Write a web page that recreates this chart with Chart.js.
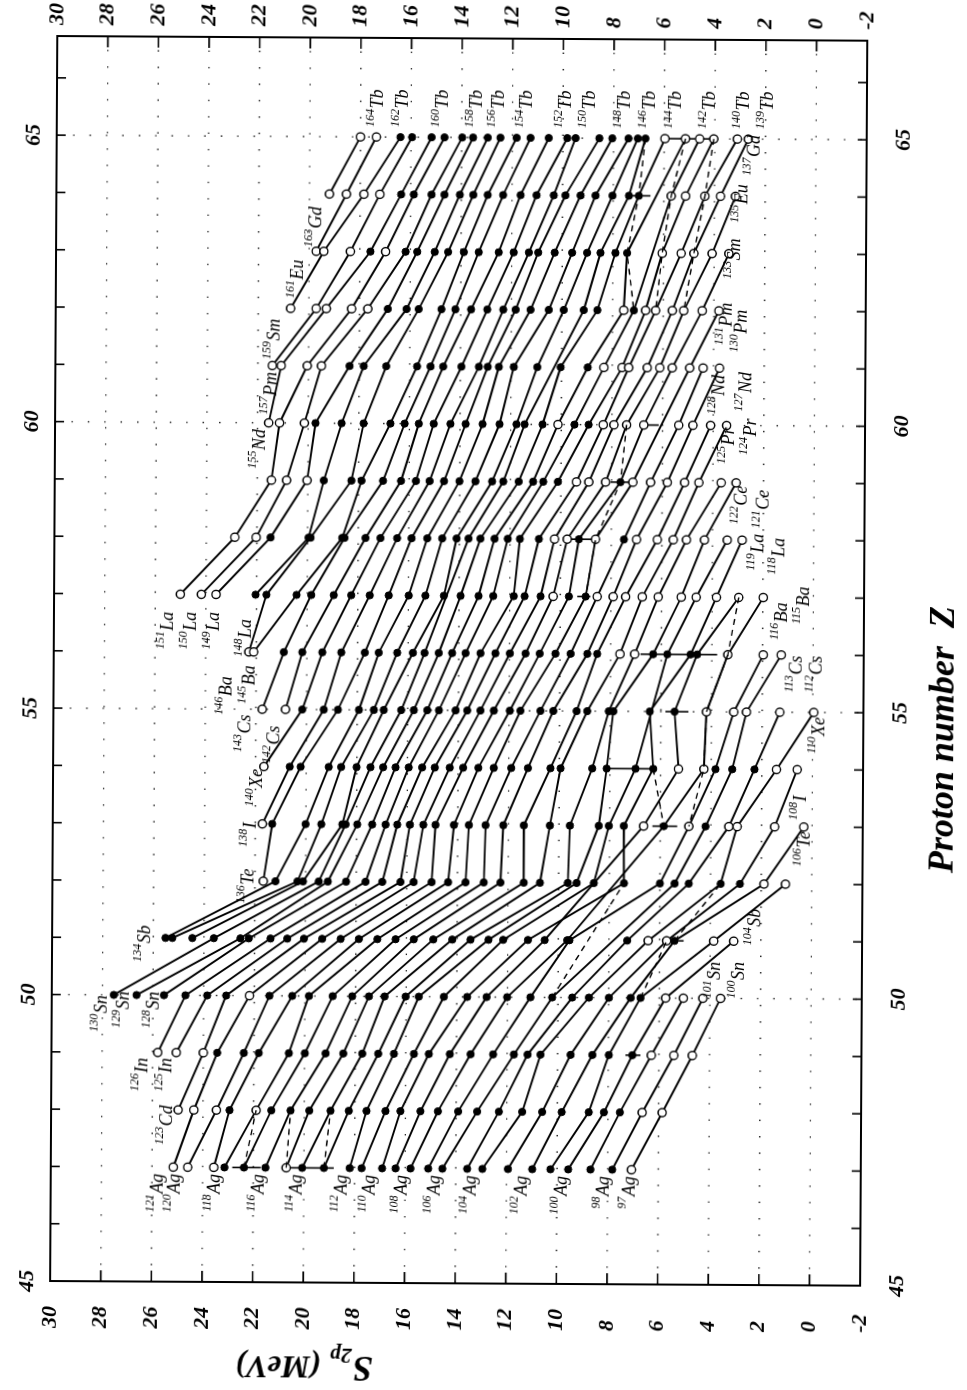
<!DOCTYPE html>
<html>
<head>
<meta charset="utf-8">
<title>Two-proton separation energies along isotone chains</title>
<script src="https://cdn.jsdelivr.net/npm/chart.js@4.4.0/dist/chart.umd.min.js"></script>
<style>
  html, body { margin: 0; padding: 0; background: #fff; }
  body { width: 967px; height: 1390px; position: relative; overflow: hidden; }
  /* the plot is laid out landscape and turned a quarter turn */
  #sheet { position: absolute; left: -211.5px; top: 211.5px; width: 1390px; height: 967px;
           transform: rotate(-89.67deg); transform-origin: 50% 50%; background: #fff; }
  #chart { display: block; }
</style>
</head>
<body>
<div id="sheet"><canvas id="chart" width="1390" height="967"></canvas></div>
<script>
// ---- axes ----
const Z_MIN = 45, Z_MAX = 66.73;
const S_MIN = -2, S_MAX = 30;
const zTickLabels = [45, 50, 55, 60, 65];
const sTickLabels = [-2, 0, 2, 4, 6, 8, 10, 12, 14, 16, 18, 20, 22, 24, 26, 28, 30];
const zDotted = [50, 55, 60, 65];
const sDotted = [0, 2, 4, 6, 8, 10, 12, 14, 16, 18, 20, 22, 24, 26, 28];

// ---- elements (rows of the table) ----
const zList   = [47, 48, 49, 50, 51, 52, 53, 54, 55, 56, 57, 58, 59, 60, 61, 62, 63, 64, 65];
const symbols = ['Ag','Cd','In','Sn','Sb','Te','I','Xe','Cs','Ba','La','Ce','Pr','Nd','Pm','Sm','Eu','Gd','Tb'];
// neutron number of the first (most neutron-rich) entry in each row; entries then step down by one
const nTop    = [74, 75, 77, 80, 83, 84, 85, 86, 88, 90, 94, 94, 94, 95, 96, 97, 98, 99, 99];

// ---- S2p (MeV), one list per element, N descending ----
const s2pAg = [25.16, 24.59, 23.56, 23.14, 22.37, 21.52, 20.70, 20.07, 19.21, 18.19, 17.72, 16.91, 16.38, 15.79, 15.09, 14.53, 13.55, 12.95, 11.94, 10.98, 10.26, 9.56, 8.68, 7.82, 7.06];
const s2pCd = [24.98, 24.36, 23.47, 22.95, 21.90, 21.30, 20.54, 19.80, 18.96, 18.24, 17.54, 16.79, 16.20, 15.41, 14.72, 13.92, 13.17, 12.31, 11.39, 10.60, 9.83, 8.76, 8.16, 7.53, 6.65, 5.86];
const s2pIn = [25.80, 25.07, 24.00, 23.45, 22.40, 21.81, 20.62, 19.99, 19.17, 18.47, 17.72, 17.09, 16.47, 15.68, 15.09, 14.26, 13.44, 12.55, 11.73, 11.19, 10.68, 9.49, 8.63, 7.98, 7.05, 6.30, 5.41, 4.68];
const s2pSn = [27.55, 26.65, 25.57, 24.72, 23.86, 23.11, 22.19, 21.40, 20.50, 19.84, 18.90, 18.13, 17.47, 16.85, 16.02, 15.50, 14.51, 13.59, 12.82, 12.01, 11.09, 10.23, 9.44, 8.78, 7.99, 7.13, 6.74, 5.75, 5.05, 4.28, 3.58];
const s2pSb = [25.52, 25.25, 24.46, 23.61, 22.56, 22.23, 21.37, 20.71, 20.05, 19.33, 18.60, 17.88, 17.15, 16.43, 15.71, 14.94, 14.19, 13.47, 12.76, 12.18, 11.20, 10.54, 9.65, 9.56, null, 7.28, 6.45, 5.72, 5.41, 3.86, 3.07];
const s2pTe = [21.67, 21.19, 20.32, 20.10, 19.48, 19.12, 18.40, 17.63, 16.97, 16.25, 15.73, 15.02, 14.37, 13.68, 12.96, 12.30, 11.38, 10.74, 9.64, 9.29, 8.61, 7.42, null, null, 6.00, 5.42, 4.86, 3.60, 2.84, 1.89, 1.04];
const s2pI  = [21.72, 21.33, 20.01, 19.39, 18.56, 18.43, 17.97, 17.38, 16.85, 16.39, 15.89, 15.36, 14.88, 14.15, 13.56, 12.90, 12.20, 11.39, 10.36, 9.57, 8.43, 8.03, 7.44, 6.66, 5.86, 4.87, 4.21, 3.29, 2.96, 1.48, 0.33];
const s2pXe = [21.67, 20.65, 20.22, 19.11, 18.62, 18.01, 17.46, 16.96, 16.47, 15.95, 15.42, 14.92, 14.33, 13.80, 13.20, 12.59, 11.90, 11.24, 10.35, 9.95, 8.70, 8.13, 6.99, 6.29, 5.29, 4.29, 3.83, 3.17, 2.29, 1.42, 0.60];
const s2pCs = [21.75, 20.83, 20.17, 19.32, 18.76, 17.93, 17.34, 16.95, 16.26, 15.76, 15.23, 14.77, 14.11, 13.65, 13.13, 12.60, 11.97, 11.55, 10.76, 10.25, 9.33, 8.91, 8.06, 7.88, null, 6.44, 5.46, 4.20, 3.12, 2.62, 1.30, -0.04];
const s2pBa = [22.29, 22.10, 20.91, 20.18, 19.39, 18.64, 17.71, 17.16, 16.43, 15.81, 15.35, 14.79, 14.26, 13.73, 13.14, 12.55, 11.98, 11.36, 10.80, 10.18, 9.58, 8.92, 8.53, 7.63, 7.05, 6.32, 5.76, 4.84, 4.58, 3.37, 1.97, 1.26];
const s2pLa = [25.01, 24.18, 23.60, 22.04, 21.61, 20.42, 19.84, 18.95, 18.26, 17.53, 16.78, 15.99, 15.33, 14.60, null, 13.94, 13.23, 12.65, 11.84, 11.41, 10.78, 10.28, 9.66, 9.00, 8.54, 7.91, 7.42, 6.76, 6.13, 5.22, 4.63, 3.83, 2.95, 1.98];
const s2pCe = [22.87, 22.03, 21.46, 19.96, 19.88, 18.63, 18.54, 17.71, 17.12, 16.46, 15.89, 15.27, 14.68, 14.11, 13.64, 13.17, 12.61, 12.09, 11.61, 10.86, 10.24, 9.74, 9.28, 8.62, 7.50, 7.00, 6.18, 5.55, 5.03, 4.32, 3.42, 2.83];
const s2pPr = [21.44, 20.84, 20.03, 19.37, 18.28, 17.88, 17.03, 16.32, 15.73, 15.19, 14.62, 14.01, 13.38, 12.72, 12.28, 11.67, 11.10, 10.70, 10.12, 9.39, 8.90, 8.24, 7.65, 7.16, 6.46, 5.80, 5.12, 4.55, 3.67, 3.08];
const s2pNd = [21.56, 21.13, 20.15, 19.71, 18.68, 17.81, 16.75, 16.19, 15.63, 15.04, 14.38, 13.78, 13.11, 12.44, 11.77, 11.45, 10.74, 10.13, 9.48, 8.92, 8.34, 7.92, 7.42, 6.74, null, 5.36, 4.80, 4.10, 3.47];
const s2pPm = [21.43, 21.08, 20.05, 19.49, 18.38, 17.82, 16.93, 15.71, 15.18, 14.68, 13.96, 13.27, 12.92, 12.48, 11.89, 10.96, null, 10.04, 8.97, 8.33, 7.61, 7.35, 6.62, 6.12, 5.63, 4.94, 4.41, 3.76];
const s2pSm = [20.72, 19.71, 19.31, 18.31, 17.67, 16.88, 16.14, 15.66, 14.76, 14.21, 13.59, 12.95, 12.32, 11.83, 11.24, 10.52, 9.93, 9.14, 8.60, 7.56, 7.16, 6.70, 6.30, 5.64, 5.19, 4.46, 3.80];
const s2pEu = [19.72, 19.42, 18.37, 17.58, 16.98, 16.19, 15.73, 15.04, 14.51, 13.89, 13.30, 12.51, 11.92, 11.32, 10.95, 10.30, 9.61, 9.02, 8.49, 7.90, 7.44, null, 6.05, 5.30, 4.80, 4.08, 3.42];
const s2pGd = [19.21, 18.54, 17.85, 17.22, 16.38, 15.88, 15.18, 14.67, 14.06, 13.53, 12.96, 12.35, 11.66, 11.03, 10.35, 9.89, 9.29, 8.70, 8.03, 7.38, 6.99, null, 5.71, 5.14, 4.38, 3.76, 3.17];
const s2pTb = [18.00, 17.37, 16.42, 15.96, 15.19, 14.68, 13.98, 13.55, 12.97, 12.47, 11.83, 11.28, 10.56, 9.83, 9.50, 8.56, 8.05, 7.41, 7.04, 6.74, 5.97, 5.16, 4.60, 4.04, 3.11, 2.68];

const s2pRows = [s2pAg, s2pCd, s2pIn, s2pSn, s2pSb, s2pTe, s2pI, s2pXe, s2pCs, s2pBa,
                 s2pLa, s2pCe, s2pPr, s2pNd, s2pPm, s2pSm, s2pEu, s2pGd, s2pTb];

// neutron numbers of the values taken from systematics (open circles), per element
const openN = [
  [74, 73, 72, 68, 50],
  [75, 74, 73, 71, 51, 50],
  [77, 76, 75, 52, 51, 50],
  [74, 53, 52, 51, 50],
  [57, 56, 54, 53],
  [84, 55, 54],
  [85, 62, 60, 58, 57, 56, 55],
  [86, 62, 61, 57, 56],
  [88, 87, 61, 60, 59, 58, 57],
  [90, 89, 67, 66, 61, 60, 59],
  [94, 93, 92, 73, 70, 69, 68, 67, 66, 65, 64, 63, 62, 61],
  [94, 93, 74, 73, 71, 69, 68, 67, 66, 65, 64, 63],
  [94, 93, 92, 75, 74, 73, 71, 70, 69, 68, 67, 66, 65],
  [95, 94, 93, 78, 75, 74, 73, 72, 70, 69, 68, 67],
  [96, 95, 94, 93, 77, 76, 75, 74, 73, 72, 71, 70, 69],
  [97, 96, 95, 94, 93, 78, 76, 75, 74, 73, 72, 71],
  [98, 97, 96, 94, 76, 75, 74, 73, 72],
  [99, 98, 97, 96, 77, 76, 75, 74, 73],
  [99, 98, 79, 78, 77, 76, 75, 74]
];

// S2p uncertainty bars: [Z, lower S2p, upper S2p] (MeV)
const errorBars = [
  [47, 21.71, 22.83], [47, 18.82, 20.70], [49, 6.73, 7.32], [51, 5.05, 5.57],
  [53, 5.33, 6.31], [54, 6.29, 8.13], [55, 4.91, 5.82], [56, 3.79, 6.82],
  [57, 8.81, 9.33], [58, 8.62, 9.74], [59, 7.25, 8.04], [60, 6.15, 6.74],
  [64, 6.53, 7.45], [65, 4.04, 5.97]
];

// dashed links between nuclides of neighbouring chains, as [Z, N] members
const dashedLinks = [
  [[47, 70], [48, 71]], [[47, 68], [48, 69]], [[47, 66], [48, 67]],
  [[50, 59], [52, 63]], [[50, 54], [51, 56]], [[51, 55], [52, 57]],
  [[54, 63], [53, 61]], [[56, 61], [55, 61], [54, 61], [53, 60]],
  [[57, 62], [56, 61], [55, 61]],
  [[60, 73], [59, 72], [58, 71], [57, 71]],
  [[65, 80], [64, 79], [63, 78], [62, 77]],
  [[65, 78], [64, 77], [63, 76], [62, 75]],
  [[65, 76], [64, 75], [63, 74], [62, 73]]
];

// chains whose lightest / heaviest member carries a nuclide label
const startLabelN = [50, 51, 53, 55, 57, 59, 61, 63, 65, 67, 69, 71, 73, 74, 75, 76, 77, 78, 79, 80,
                     83, 84, 85, 86, 87, 88, 89, 90, 91, 92, 93, 94, 95, 96, 97, 98, 99];
const endLabelN   = [50, 51, 53, 54, 55, 56, 57, 58, 59, 60, 61, 62, 63, 64, 65, 66, 67, 68, 69, 70,
                     71, 72, 73, 74, 75, 77, 79, 81, 83, 85, 87, 89, 91, 93, 95, 97, 99];
// label placement: [shift across the chain direction, gap along the Z direction] in px
const startLabelPos = [[-3,7],[-9,7],[-7,7],[-11,7],[-13,7],[-9,7],[-10,7],[-13,7],[-9,7],[-6,7],
                       [-8,7],[-11,7],[-14,7],[-17,7],[-12,-4],[-11,6],[-16,6],[-11,-3],[-14,-3],[-13,1],
                       [-21,-12],[-16,-12],[-13,-1],[-8,3],[-12,17],[-18,6],[-5,14],[-23,25],[-10,25],[-3,18],
                       [-11,18],[-13,18],[-10,7],[-2,7],[-17,11],[-19,9],[-14,13]];
const endLabelPos   = [[17,0],[11,0],[20,-4],[18,18],[-4,7],[21,16],[2,20],[16,20],[22,31],[17,15],
                       [15,23],[18,27],[20,12],[13,16],[14,28],[7,19],[18,14],[7,11],[21,16],[22,23],
                       [15,32],[12,31],[18,21],[18,10],[5,10],[9,10],[10,10],[11,10],[11,10],[13,10],
                       [16,10],[9,10],[10,10],[13,10],[10,10],[1,10],[16,10]];

// ---- regroup the rows into isotone chains (constant N) ----
const chains = new Map();
zList.forEach((z, r) => {
  s2pRows[r].forEach((s, i) => {
    const n = nTop[r] - i;
    if (!chains.has(n)) chains.set(n, []);
    chains.get(n).push({ x: z, y: s, open: openN[r].includes(n) });
  });
});
const chainN = Array.from(chains.keys()).sort((a, b) => a - b);
const valueOf = (z, n) => chains.get(n).find(p => p.x === z).y;

const linkSets = dashedLinks.map(path => ({
  label: 'link',
  data: path.map(([z, n]) => ({ x: z, y: valueOf(z, n) })),
  xAxisID: 'x',
  yAxisID: 'y',
  borderColor: '#000',
  borderWidth: 1.4,
  borderDash: [6, 5],
  pointRadius: 0,
  tension: 0
}));

const chainSets = chainN.map(n => ({
  label: 'N = ' + n,
  data: chains.get(n),
  xAxisID: 'x',
  yAxisID: 'y',
  borderColor: '#000',
  borderWidth: 1.9,
  spanGaps: true,
  tension: 0,
  pointStyle: 'circle',
  pointRadius: c => (c.raw && c.raw.open ? 4.1 : 3.6),
  pointBorderWidth: c => (c.raw && c.raw.open ? 1.4 : 1),
  pointBackgroundColor: c => (c.raw && c.raw.open ? '#fff' : '#000'),
  pointBorderColor: '#000'
}));

const SERIF = '"Liberation Serif", "DejaVu Serif", serif';
const tickFont = { family: SERIF, size: 22, style: 'italic', weight: 'bold' };

// dotted grid, inward tick marks and the frame
const frameAndGrid = {
  id: 'frameAndGrid',
  beforeDatasetsDraw(chart) {
    const { ctx, chartArea: a, scales: { x, y } } = chart;
    ctx.save();
    ctx.strokeStyle = '#1a1a1a';
    ctx.lineWidth = 1.4;
    ctx.setLineDash([1.4, 15]);
    sDotted.forEach(s => {
      const py = y.getPixelForValue(s);
      ctx.beginPath(); ctx.moveTo(a.left, py); ctx.lineTo(a.right, py); ctx.stroke();
    });
    zDotted.forEach(z => {
      const px = x.getPixelForValue(z);
      ctx.beginPath(); ctx.moveTo(px, a.top); ctx.lineTo(px, a.bottom); ctx.stroke();
    });
    ctx.setLineDash([]);
    ctx.strokeStyle = '#000';
    ctx.lineWidth = 1.6;
    sTickLabels.forEach(s => {
      const py = y.getPixelForValue(s);
      ctx.beginPath();
      ctx.moveTo(a.left, py); ctx.lineTo(a.left + 11, py);
      ctx.moveTo(a.right, py); ctx.lineTo(a.right - 11, py);
      ctx.stroke();
    });
    for (let z = Math.ceil(Z_MIN) + 1; z <= Math.floor(Z_MAX); z++) {
      const px = x.getPixelForValue(z);
      ctx.beginPath();
      ctx.moveTo(px, a.top); ctx.lineTo(px, a.top + 9);
      ctx.moveTo(px, a.bottom); ctx.lineTo(px, a.bottom - 9);
      ctx.stroke();
    }
    ctx.lineWidth = 2;
    ctx.strokeRect(a.left, a.top, a.right - a.left, a.bottom - a.top);
    // uncertainty bars
    ctx.lineWidth = 1.6;
    errorBars.forEach(([z, lo, hi]) => {
      const px = x.getPixelForValue(z);
      ctx.beginPath();
      ctx.moveTo(px, y.getPixelForValue(lo));
      ctx.lineTo(px, y.getPixelForValue(hi));
      ctx.stroke();
    });
    ctx.restore();
  }
};

// nuclide labels (mass number as a superscript) at the ends of the chains
const chainLabels = {
  id: 'chainLabels',
  afterDatasetsDraw(chart) {
    const { ctx, scales: { x, y } } = chart;
    const supFont = 'italic 12px ' + SERIF;
    const symFont = 'italic 18px ' + SERIF;
    ctx.save();
    ctx.fillStyle = '#000';
    ctx.textAlign = 'left';
    ctx.textBaseline = 'alphabetic';
    const put = (n, atStart, shift) => {
      const pts = chains.get(n).filter(p => p.y !== null);
      const p = atStart ? pts[0] : pts[pts.length - 1];
      const px = x.getPixelForValue(p.x);
      const py = y.getPixelForValue(p.y) + shift[0];
      const mass = String(p.x + n);
      const sym = symbols[zList.indexOf(p.x)];
      ctx.font = supFont; const mw = ctx.measureText(mass).width;
      ctx.font = symFont; const sw = ctx.measureText(sym).width;
      const x0 = atStart ? px - shift[1] - mw - sw : px + shift[1];
      ctx.font = supFont; ctx.fillText(mass, x0, py - 3);
      ctx.font = symFont; ctx.fillText(sym, x0 + mw + 0.5, py + 6);
    };
    startLabelN.forEach((n, i) => put(n, true, startLabelPos[i]));
    endLabelN.forEach((n, i) => put(n, false, endLabelPos[i]));
    ctx.restore();
  }
};

// axis titles
const axisTitles = {
  id: 'axisTitles',
  afterDraw(chart) {
    const { ctx } = chart;
    ctx.save();
    ctx.fillStyle = '#000';
    ctx.textAlign = 'left';
    ctx.textBaseline = 'alphabetic';
    ctx.font = 'italic bold 36px ' + SERIF;
    ctx.fillText('Proton number  Z', 520, 953);

    ctx.translate(33, 376);
    ctx.rotate(-Math.PI / 2);
    ctx.font = 'italic bold 36px ' + SERIF;
    ctx.fillText('S', 0, 0);
    let w = ctx.measureText('S').width;
    ctx.font = 'italic bold 22px ' + SERIF;
    ctx.fillText('2p', w + 1, 8);
    w += ctx.measureText('2p').width + 10;
    ctx.font = 'italic bold 32px ' + SERIF;
    ctx.fillText('(MeV)', w, 0);
    ctx.restore();
  }
};

const fixedTicks = list => scale => { scale.ticks = list.map(v => ({ value: v })); };
const commonTicks = { color: '#000', font: tickFont, autoSkip: false, maxRotation: 0, minRotation: 0,
                      callback: v => String(v) };
const noGrid = { display: false, drawTicks: false, tickLength: 0 };

new Chart(document.getElementById('chart'), {
  type: 'line',
  data: { datasets: linkSets.concat(chainSets) },
  options: {
    responsive: false,
    animation: false,
    devicePixelRatio: 1,
    events: [],
    layout: { padding: { left: 60, right: 0, top: 0, bottom: 0 } },
    plugins: { legend: { display: false }, tooltip: { enabled: false } },
    scales: {
      x: {
        type: 'linear', position: 'bottom', min: Z_MIN, max: Z_MAX,
        afterBuildTicks: fixedTicks(zTickLabels),
        afterFit: s => { s.height = 104; },
        grid: noGrid, border: { display: false },
        ticks: Object.assign({ padding: 24 }, commonTicks)
      },
      xTop: {
        type: 'linear', position: 'top', min: Z_MIN, max: Z_MAX,
        afterBuildTicks: fixedTicks(zTickLabels),
        afterFit: s => { s.height = 53; },
        grid: noGrid, border: { display: false },
        ticks: Object.assign({ padding: 9 }, commonTicks)
      },
      y: {
        type: 'linear', position: 'left', min: S_MIN, max: S_MAX,
        afterBuildTicks: fixedTicks(sTickLabels),
        afterFit: s => { s.width = 47; },
        grid: noGrid, border: { display: false },
        ticks: Object.assign({ padding: 0, crossAlign: 'far' }, commonTicks)
      },
      yRight: {
        type: 'linear', position: 'right', min: S_MIN, max: S_MAX,
        afterBuildTicks: fixedTicks(sTickLabels),
        afterFit: s => { s.width = 38; },
        grid: noGrid, border: { display: false },
        ticks: Object.assign({ padding: 11 }, commonTicks)
      }
    }
  },
  plugins: [frameAndGrid, chainLabels, axisTitles]
});
</script>
</body>
</html>
